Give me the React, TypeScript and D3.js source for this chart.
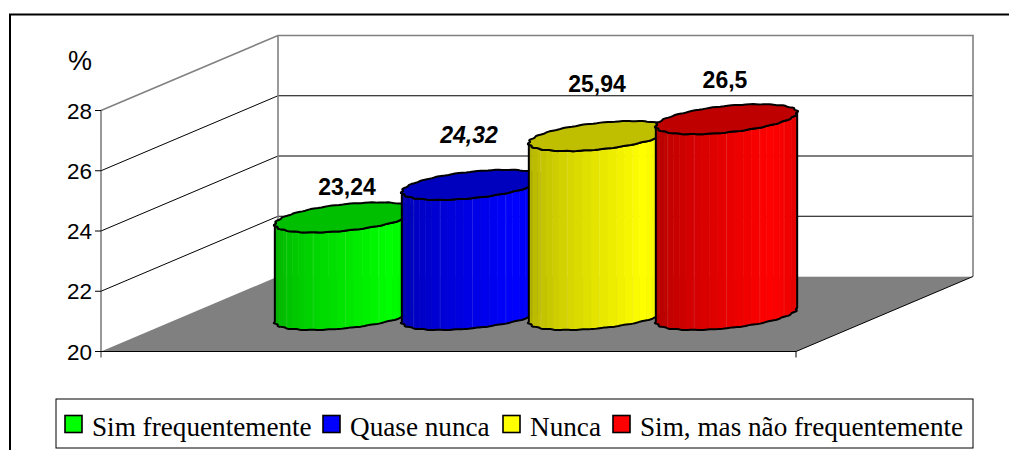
import React from "react";
import * as d3 from "d3";

const categories = ["Sim frequentemente", "Quase nunca", "Nunca", "Sim, mas não frequentemente"];
const values = [23.24, 24.32, 25.94, 26.5];
const valueLabels = ["23,24", "24,32", "25,94", "26,5"];
const colors = ["#00ff00", "#0000ff", "#ffff00", "#ff0000"];
const yTicks = [20, 22, 24, 26, 28];

// layout (not data)
const depthX = 177;
const depthY = 75;
const labelLift = [22, 42, 44, 31];
const labelShift = [1, -4, -3, -2];
const legendSwatchX = [65, 323, 503, 613];
const legendTextX = [92, 350, 530, 640];

const y = d3.scaleLinear().domain([20, 28]).range([351.5, 110.5]);
const x = d3.scaleBand<string>().domain(categories).range([194, 702]).padding(0);

const A = 62.5;
const C = 33;
const E = 15;
const DEPTH_FRAC = 0.5;
const T0 = Math.atan2(C, A);
const WOBBLE = 0.016;

function pt(cx: number, cy: number, t: number): [number, number] {
  const k = 1 + WOBBLE * Math.sin(22 * (t - T0));
  return [cx + k * (A * Math.cos(t) + C * Math.sin(t)), cy - k * E * Math.sin(t)];
}

const line = d3.line();

function Cylinder({ i }: { i: number }) {
  const cat = categories[i];
  const cx = (x(cat) as number) + x.bandwidth() / 2 + DEPTH_FRAC * depthX - 0.5;
  const yBase = y(20) - DEPTH_FRAC * depthY + 1;
  const yTop = yBase - (y(20) - y(values[i]));
  const color = colors[i];
  const shade = d3.scaleLinear().domain([0, 0.72, 1]).range([0.68, 1, 0.87]);
  const tone = (f: number) => d3.interpolateRgb("#000000", color)(f);
  const N = 26;
  const tL = Math.PI + T0;
  const frontT = d3.range(0, N * 4 + 1).map((j) => tL + (Math.PI * j) / (N * 4));
  const allT = d3.range(0, 121).map((j) => (2 * Math.PI * j) / 120);
  const strips = d3.range(0, N).map((j) => {
    const ts = frontT.slice(j * 4, (j + 1) * 4 + 1);
    const top = ts.map((t) => pt(cx, yTop, t));
    const bot = ts.map((t) => pt(cx, yBase, t)).reverse();
    return { d: line([...top, ...bot]) + "Z", f: shade(j / (N - 1)), j, x0: top[0][0], y0: top[0][1], y1: bot[bot.length - 1][1] };
  });
  const outline =
    line([
      ...frontT.map((t) => pt(cx, yTop, t)),
      ...frontT.slice().reverse().map((t) => pt(cx, yBase, t)),
    ]) + "Z";
  const topPath = line(allT.map((t) => pt(cx, yTop, t))) + "Z";
  return (
    <g>
      {strips.map((s) => (
        <path key={s.j} d={s.d} fill={tone(s.f)} stroke={tone(s.f)} strokeWidth={0.6} />
      ))}
      {strips
        .filter((s) => s.j % 4 === 1)
        .map((s) => (
          <line key={s.j} x1={s.x0} x2={s.x0} y1={s.y0} y2={s.y1} stroke="#ffffff" strokeOpacity={0.13} strokeWidth={0.8} />
        ))}
      <path d={outline} fill="none" stroke="#000" strokeWidth={2} strokeLinejoin="round" />
      <path d={topPath} fill={tone(0.75)} stroke="#000" strokeWidth={2} strokeLinejoin="round" />
    </g>
  );
}

export default function App() {
  const y0 = y(20);
  const y1 = y(28);
  const xL = 101;
  const xR = 796;
  return (
    <svg
      width={1009}
      height={450}
      viewBox="0 0 1009 450"
      style={{ position: "fixed", left: 0, top: 0, background: "#fff", display: "block" }}
    >
      <path d="M10,450V14.5H1009" fill="none" stroke="#000" strokeWidth={2} />

      {/* floor */}
      <polygon
        points={`${xL},${y0} ${xL + depthX},${y0 - depthY} ${xR + depthX},${y0 - depthY} ${xR},${y0}`}
        fill="#808080"
      />
      {/* gridlines */}
      {yTicks.slice(1, -1).map((v) => (
        <path
          key={v}
          d={`M${xL},${y(v)}L${xL + depthX},${y(v) - depthY}H${xR + depthX}`}
          fill="none"
          stroke="#000"
          strokeWidth={1}
        />
      ))}
      {/* walls */}
      <path
        d={`M${xL},${y1}L${xL + depthX},${y1 - depthY}H${xR + depthX}V${y0 - depthY}`}
        fill="none"
        stroke="#808080"
        strokeWidth={1.6}
      />
      <line x1={xL + depthX} x2={xL + depthX} y1={y1 - depthY} y2={y0 - depthY} stroke="#808080" strokeWidth={1.6} />
      <line x1={xL + depthX} x2={xR + depthX} y1={y0 - depthY} y2={y0 - depthY} stroke="#d9d9d9" strokeWidth={1} />
      {/* axes */}
      <line x1={xL} x2={xL} y1={y1} y2={y0 + 6} stroke="#333" strokeWidth={1} />
      <line x1={xL} x2={xR} y1={y0} y2={y0} stroke="#000" strokeWidth={1.2} />
      <line x1={xR} x2={xR} y1={y0} y2={y0 + 6} stroke="#000" strokeWidth={1} />
      <line x1={xR} x2={xR + depthX} y1={y0} y2={y0 - depthY} stroke="#000" strokeWidth={1} />
      {yTicks.map((v) => (
        <g key={v}>
          <line x1={xL - 6} x2={xL} y1={y(v)} y2={y(v)} stroke="#000" strokeWidth={1} />
          <text x={92} y={y(v) + 8} textAnchor="end" fontFamily="'Liberation Sans'" fontSize={22.5} fill="#000">
            {v}
          </text>
        </g>
      ))}
      <text x={80} y={70} textAnchor="middle" fontFamily="'Liberation Sans'" fontSize={27} fill="#000">
        %
      </text>

      {categories.map((c, i) => (
        <Cylinder key={c} i={i} />
      ))}

      {categories.map((c, i) => {
        const cx = (x(c) as number) + x.bandwidth() / 2 + DEPTH_FRAC * depthX + labelShift[i];
        const yTopC = y(values[i]) - DEPTH_FRAC * depthY + 1;
        return (
          <text
            key={c}
            x={cx}
            y={yTopC - labelLift[i]}
            textAnchor="middle"
            fontFamily="'Liberation Sans'"
            fontWeight="bold"
            fontStyle={i === 1 ? "italic" : "normal"}
            fontSize={23}
            fill="#000"
          >
            {valueLabels[i]}
          </text>
        );
      })}

      {/* legend */}
      <rect x={56} y={399} width={917} height={49} fill="#fff" stroke="#000" strokeWidth={1} />
      {categories.map((c, i) => (
        <g key={c}>
          <rect x={legendSwatchX[i]} y={415.5} width={17} height={17} fill={colors[i]} stroke="#000" strokeWidth={1.6} />
          <text x={legendTextX[i]} y={436} fontFamily="'Liberation Serif'" fontSize={27.2} fill="#000">
            {c}
          </text>
        </g>
      ))}
    </svg>
  );
}
